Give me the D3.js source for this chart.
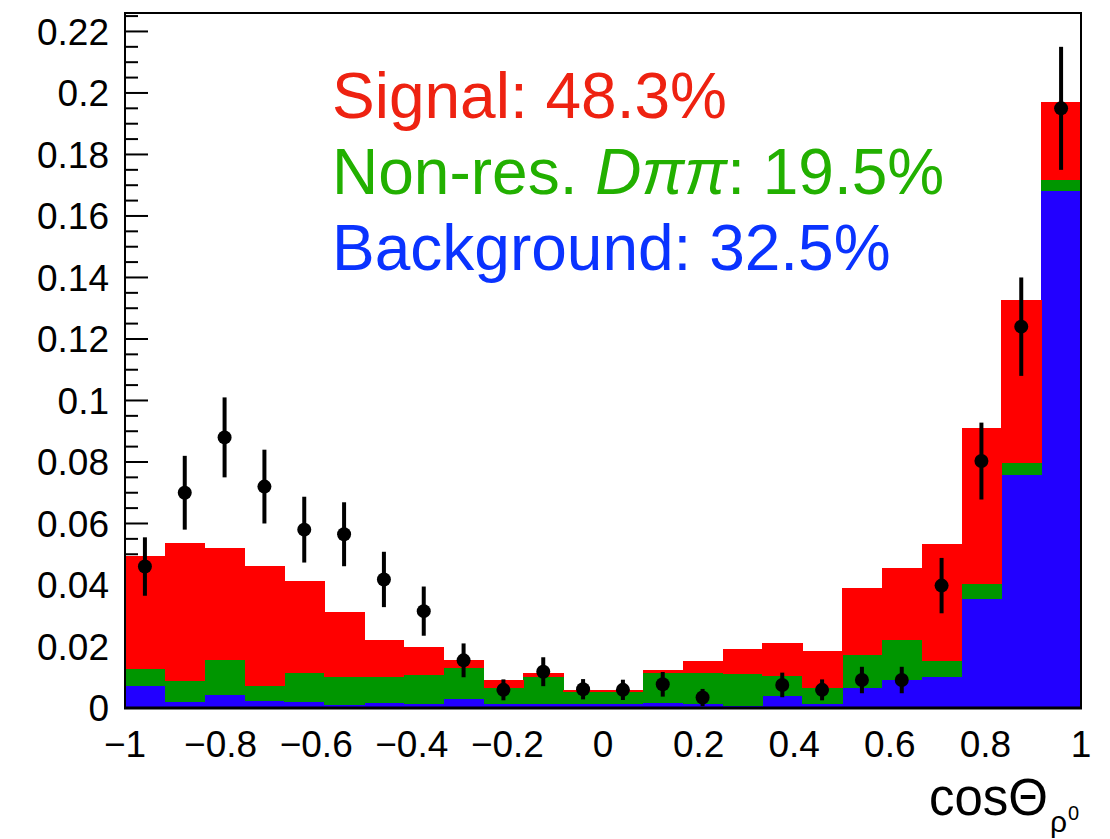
<!DOCTYPE html>
<html>
<head>
<meta charset="utf-8">
<script src="https://cdn.jsdelivr.net/npm/d3@7"></script>
<style>
  html, body { margin: 0; padding: 0; background: #fff; }
  svg text { font-family: "Liberation Sans", Arial, sans-serif; }
</style>
</head>
<body>
<svg id="chart"></svg>
<script>
(() => {

  // histogram binning: 24 bins on [-1, 1]
  const nBins = 24;
  const xMin = -1;
  const xMax = 1;

  // stacked components per bin (fraction of events)
  const background = [0.0073, 0.0019, 0.0041, 0.0024, 0.0019, 0.0010, 0.0017, 0.0013, 0.0029, 0.0012, 0.0012, 0.0012,
                      0.0012, 0.0015, 0.0012, 0.0007, 0.0040, 0.0012, 0.0066, 0.0091, 0.0102, 0.0354, 0.0758, 0.1682];
  const nonRes     = [0.0053, 0.0070, 0.0115, 0.0048, 0.0094, 0.0092, 0.0085, 0.0094, 0.0102, 0.0054, 0.0090, 0.0041,
                      0.0041, 0.0098, 0.0101, 0.0104, 0.0065, 0.0052, 0.0106, 0.0130, 0.0052, 0.0048, 0.0040, 0.0035];
  const signal     = [0.0367, 0.0448, 0.0365, 0.0390, 0.0300, 0.0210, 0.0119, 0.0091, 0.0024, 0.0025, 0.0012, 0.0007,
                      0.0007, 0.0012, 0.0041, 0.0080, 0.0105, 0.0121, 0.0217, 0.0235, 0.0379, 0.0510, 0.0529, 0.0253];

  // data points with errors (null = empty bin)
  const dataVals = [0.046, 0.070, 0.088, 0.072, 0.058, 0.0565, 0.0418, 0.0315, 0.0155, 0.0059, 0.0118, 0.0061,
                    0.0059, 0.0077, 0.0034, null, 0.0075, 0.0059, 0.0091, 0.0091, 0.0398, 0.0803, 0.124, 0.195];
  const dataErrs = [0.0095, 0.012, 0.013, 0.012, 0.0107, 0.0104, 0.009, 0.008, 0.0055, 0.0034, 0.0047, 0.0033,
                    0.0033, 0.004, 0.0028, null, 0.004, 0.0034, 0.0043, 0.0043, 0.009, 0.0125, 0.016, 0.02];

  const yTicks = [0, 0.02, 0.04, 0.06, 0.08, 0.1, 0.12, 0.14, 0.16, 0.18, 0.2, 0.22];
  const xTicks = [-1, -0.8, -0.6, -0.4, -0.2, 0, 0.2, 0.4, 0.6, 0.8, 1];

  const width = 1110;
  const height = 839;
  const left = 125, right = 1081, top = 13, bottom = 708;

  const svg = d3.select('#chart')
    .attr('width', width)
    .attr('height', height);

  const x = d3.scaleLinear().domain([xMin, xMax]).range([left, right]);
  const y = d3.scaleLinear().domain([0, 0.226]).range([bottom, top]);

  const binW = (xMax - xMin) / nBins;
  const bins = d3.range(nBins).map(i => ({
    lo: xMin + i * binW,
    hi: xMin + (i + 1) * binW,
    background: background[i],
    nonRes: nonRes[i],
    signal: signal[i],
    val: dataVals[i],
    err: dataErrs[i]
  }));

  // y axis ticks (drawn under the histogram, like ROOT)
  const minor = d3.range(0, 0.2251, 0.005);
  svg.append('g')
    .selectAll('line')
    .data(minor)
    .enter()
    .append('line')
    .attr('x1', left)
    .attr('x2', (d) => Math.abs(d / 0.02 - Math.round(d / 0.02)) < 1e-6 ? left + 23 : left + 13)
    .attr('y1', (d) => y(d))
    .attr('y2', (d) => y(d))
    .attr('stroke', '#000')
    .attr('stroke-width', 2);

  // stacked histogram
  const stack = d3.stack().keys(['background', 'nonRes', 'signal']);
  const colors = { background: '#2200ff', nonRes: '#009600', signal: '#ff0000' };

  const layers = svg.append('g')
    .selectAll('g')
    .data(stack(bins))
    .enter()
    .append('g')
    .attr('fill', (d) => colors[d.key]);

  layers.selectAll('rect')
    .data((d) => d)
    .enter()
    .append('rect')
    .attr('x', (d) => x(d.data.lo))
    .attr('width', (d) => x(d.data.hi) - x(d.data.lo) + 0.5)
    .attr('y', (d) => y(d[1]))
    .attr('height', (d) => y(d[0]) - y(d[1]))
    .attr('shape-rendering', 'crispEdges');

  // frame
  svg.append('rect')
    .attr('x', left)
    .attr('y', top)
    .attr('width', right - left)
    .attr('height', bottom - top)
    .attr('fill', 'none')
    .attr('stroke', '#000')
    .attr('stroke-width', 2);

  svg.append('line')
    .attr('x1', left - 1).attr('x2', right + 1)
    .attr('y1', bottom).attr('y2', bottom)
    .attr('stroke', '#000')
    .attr('stroke-width', 3);

  // data points
  const pts = svg.append('g')
    .selectAll('g')
    .data(bins.filter(b => b.val !== null))
    .enter()
    .append('g');

  pts.append('line')
    .attr('x1', (d) => x((d.lo + d.hi) / 2))
    .attr('x2', (d) => x((d.lo + d.hi) / 2))
    .attr('y1', (d) => y(Math.max(0, d.val - d.err)))
    .attr('y2', (d) => y(d.val + d.err))
    .attr('stroke', '#000')
    .attr('stroke-width', 4);

  pts.append('circle')
    .attr('cx', (d) => x((d.lo + d.hi) / 2))
    .attr('cy', (d) => y(d.val))
    .attr('r', 7)
    .attr('fill', '#000');

  // tick labels
  svg.append('g')
    .selectAll('text')
    .data(yTicks)
    .enter()
    .append('text')
    .attr('x', 109)
    .attr('y', (d) => y(d))
    .attr('dy', '0.36em')
    .attr('text-anchor', 'end')
    .attr('font-size', 37)
    .text((d) => d3.format('~g')(d));

  svg.append('g')
    .selectAll('text')
    .data(xTicks)
    .enter()
    .append('text')
    .attr('x', (d) => x(d))
    .attr('y', 757)
    .attr('text-anchor', 'middle')
    .attr('font-size', 37)
    .text((d) => d < 0 ? '\u2212' + Math.abs(d) : String(d));

  // axis title
  svg.append('text')
    .attr('x', 1048)
    .attr('y', 815)
    .attr('text-anchor', 'end')
    .attr('font-size', 51)
    .text('cos\u0398');

  svg.append('text')
    .attr('x', 1050)
    .attr('y', 832)
    .attr('font-size', 30)
    .text('\u03c1');

  svg.append('text')
    .attr('x', 1068)
    .attr('y', 820)
    .attr('font-size', 20)
    .text('0');

  // fractions
  const legend = svg.append('g')
    .attr('font-size', 64);

  legend.append('text')
    .attr('x', 332)
    .attr('y', 118)
    .attr('fill', '#ee2211')
    .text('Signal: 48.3%');

  const nr = legend.append('text')
    .attr('x', 332)
    .attr('y', 194)
    .attr('fill', '#22b000');
  nr.append('tspan').text('Non-res. ');
  nr.append('tspan').attr('font-style', 'italic').text('D\u03c0\u03c0');
  nr.append('tspan').text(': 19.5%');

  legend.append('text')
    .attr('x', 332)
    .attr('y', 270)
    .attr('fill', '#0a33ff')
    .text('Background: 32.5%');

})();
</script>
</body>
</html>
